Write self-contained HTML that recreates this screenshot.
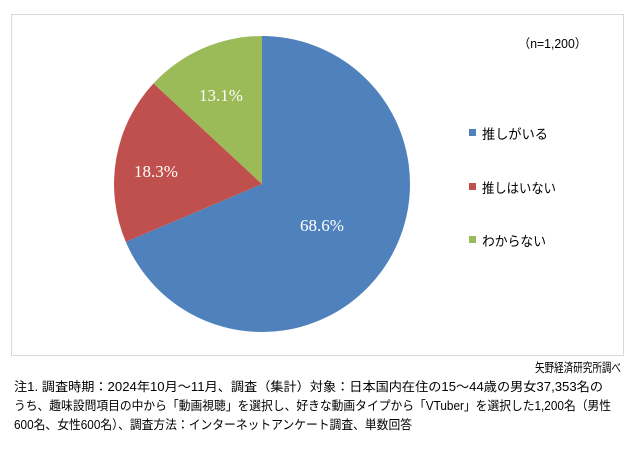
<!DOCTYPE html>
<html><head><meta charset="utf-8"><style>
body{margin:0;width:634px;height:461px;background:#fff;overflow:hidden;}
.box{position:absolute;left:11px;top:14px;width:611px;height:340px;border:1px solid #d9d9d9;}
</style></head><body>
<div class="box"></div>
<svg width="634" height="461" style="position:absolute;left:0;top:0">
<path d="M262,184 L262,36 A148,148 0 1,1 125.8,241.9 Z" fill="#4F81BD"/>
<path d="M262,184 L125.8,241.9 A148,148 0 0,1 153.5,83.4 Z" fill="#C0504D"/>
<path d="M262,184 L153.5,83.4 A148,148 0 0,1 262,36 Z" fill="#9BBB59"/>
<g font-family="Liberation Serif, serif" font-size="17" fill="#fff" text-anchor="middle">
<text x="322" y="231">68.6%</text>
<text x="156" y="177">18.3%</text>
<text x="221" y="101">13.1%</text>
</g>
<rect x="469" y="129" width="7" height="7" fill="#4F81BD"/>
<rect x="469" y="183" width="7" height="7" fill="#C0504D"/>
<rect x="469" y="236" width="7" height="7" fill="#9BBB59"/>
<g font-family="Liberation Sans, Noto Sans CJK JP, sans-serif" fill="#000" lengthAdjust="spacingAndGlyphs">
<text x="518" y="48" font-size="12.5" textLength="69" lengthAdjust="spacingAndGlyphs">（n=1,200）</text>
<text x="482" y="139" font-size="13.5" textLength="66" lengthAdjust="spacingAndGlyphs">推しがいる</text>
<text x="482" y="193" font-size="13.5" textLength="74" lengthAdjust="spacingAndGlyphs">推しはいない</text>
<text x="482" y="246" font-size="13.5" textLength="64" lengthAdjust="spacingAndGlyphs">わからない</text>
<text x="535" y="372" font-size="12.5" textLength="86" lengthAdjust="spacingAndGlyphs">矢野経済研究所調べ</text>
<text x="14" y="391" font-size="12.5" textLength="589" lengthAdjust="spacingAndGlyphs">注1. 調査時期：2024年10月～11月、調査（集計）対象：日本国内在住の15～44歳の男女37,353名の</text>
<text x="14" y="410" font-size="12.5" textLength="597" lengthAdjust="spacingAndGlyphs">うち、趣味設問項目の中から「動画視聴」を選択し、好きな動画タイプから「VTuber」を選択した1,200名（男性</text>
<text x="14" y="429" font-size="12.5" textLength="398" lengthAdjust="spacingAndGlyphs">600名、女性600名）、調査方法：インターネットアンケート調査、単数回答</text>
</g>
</svg>
</body></html>
